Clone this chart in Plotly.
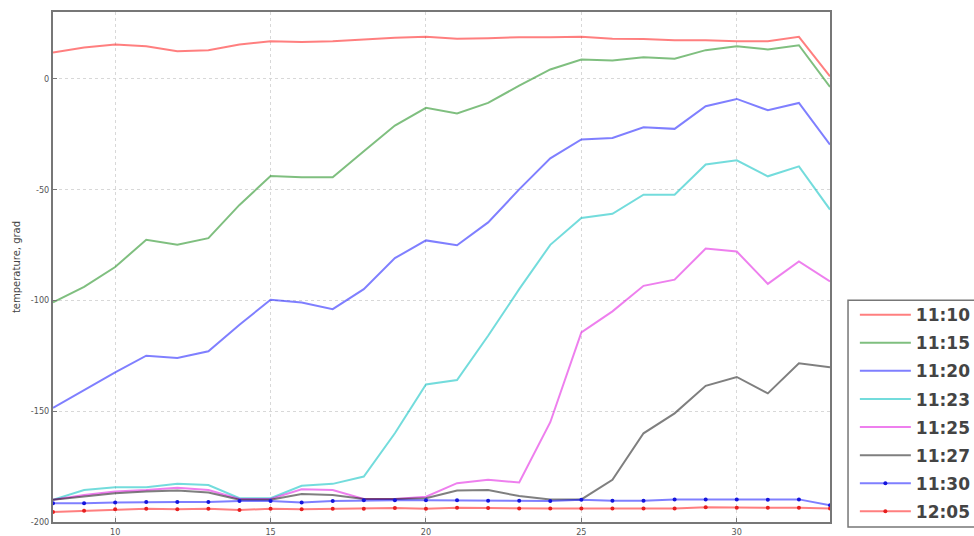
import plotly.graph_objects as go

# probe positions along the pipe
positions = list(range(8, 34))

t_1110 = [11.7, 14.0, 15.3, 14.6, 12.3, 12.8, 15.3, 16.8, 16.5, 16.8, 17.6, 18.4, 18.8,
          17.9, 18.2, 18.6, 18.6, 18.8, 17.9, 17.8, 17.3, 17.3, 16.8, 16.8, 18.8, 1.0]
t_1115 = [-101, -94, -85, -72.7, -75, -72, -57, -44, -44.5, -44.5, -32.8, -21.2, -13.2,
          -15.8, -11, -3.2, 4.1, 8.6, 8.1, 9.6, 8.9, 12.8, 14.6, 13.1, 15.0, -3.8]
t_1120 = [-148.5, -140.5, -132.5, -125, -126, -123, -111, -99.8, -101, -104, -95, -81, -73,
          -75.2, -64.9, -50, -36, -27.5, -26.8, -22, -22.7, -12.5, -9.2, -14.3, -11, -29.8]
t_1123 = [-190, -185.6, -184.3, -184.3, -182.8, -183.3, -189.3, -189.3, -183.7, -182.8, -179.5,
          -160, -138, -136, -116, -95, -75, -62.9, -61, -52.4, -52.4, -38.8, -36.9, -44.1, -39.6, -59.1]
t_1125 = [-190, -187.8, -186.3, -185.6, -184.5, -185.6, -189.6, -189.6, -185.2, -185.6, -189.6,
          -189.6, -188.6, -182.5, -181, -182.2, -155, -114.5, -105, -93.5, -90.7, -76.7, -78,
          -92.6, -82.5, -91.5]
t_1127 = [-190, -188.6, -187, -186.3, -185.8, -186.7, -190, -190, -187.4, -187.8, -189.6, -189.6,
          -189.3, -185.8, -185.6, -188.3, -189.8, -189.8, -181, -160, -151, -138.6, -134.6,
          -142, -128.4, -130.2]
t_1130 = [-191.6, -191.6, -191.2, -191, -191, -191, -190.5, -190.5, -191.2, -190.5, -190.2,
          -190.2, -190.2, -190.2, -190.4, -190.4, -190.5, -190, -190.4, -190.4, -189.8, -189.8,
          -189.8, -190, -189.8, -192.5]
t_1205 = [-195.5, -194.9, -194.3, -194, -194.3, -194, -194.6, -194, -194.3, -194, -194, -193.7,
          -194, -193.6, -193.7, -193.9, -193.9, -193.9, -193.9, -193.9, -193.9, -193.3, -193.6,
          -193.6, -193.6, -193.9]

x_ticks = [10, 15, 20, 25, 30]
y_ticks = [0, -50, -100, -150, -200]

plain_series = [
    ("11:10", t_1110, "rgba(255,0,0,0.5)"),
    ("11:15", t_1115, "rgba(0,128,0,0.5)"),
    ("11:20", t_1120, "rgba(0,0,255,0.5)"),
    ("11:23", t_1123, "rgba(0,191,191,0.55)"),
    ("11:25", t_1125, "rgba(221,0,221,0.5)"),
    ("11:27", t_1127, "rgba(0,0,0,0.5)"),
]
marked_series = [
    ("11:30", t_1130, "rgba(0,0,255,0.5)", "rgb(20,20,220)"),
    ("12:05", t_1205, "rgba(255,0,0,0.5)", "rgb(230,30,30)"),
]

fig = go.Figure()
for name, vals, col in plain_series:
    fig.add_trace(go.Scatter(x=positions, y=vals, mode="lines", name=name, legendgroup=name,
                             line=dict(color=col, width=2)))
for name, vals, col, mcol in marked_series:
    fig.add_trace(go.Scatter(x=positions, y=vals, mode="lines+markers", name=name,
                             legendgroup=name,
                             line=dict(color=col, width=2),
                             marker=dict(color=mcol, size=4)))

# legend frame (runs off the right edge of the canvas)
fig.add_shape(type="rect", xref="paper", yref="paper",
              x0=1.0232, x1=1.25, y0=-0.0098, y1=0.435,
              line=dict(color="#777777", width=1.5), fillcolor="white", layer="below")

axis_font = dict(family="DejaVu Sans Condensed, DejaVu Sans", size=9, color="#555555")
fig.update_layout(
    width=974, height=536,
    margin=dict(l=53, r=144, t=12, b=14, autoexpand=False),
    paper_bgcolor="white", plot_bgcolor="white",
    showlegend=True,
    legend=dict(
        x=1.032, y=0.441, xanchor="left", yanchor="top",
        bgcolor="rgba(0,0,0,0)", borderwidth=0,
        font=dict(family="DejaVu Sans", size=17, color="#444444", weight="bold"),
        tracegroupgap=3, itemwidth=51,
    ),
)
fig.update_xaxes(
    range=[8, 33], tickvals=x_ticks, ticktext=[str(v) for v in x_ticks],
    showgrid=True, gridcolor="#d8d8d8", griddash="dot", gridwidth=1,
    showline=True, linecolor="#777777", linewidth=2, mirror=True,
    ticks="inside", ticklen=4, tickcolor="#777777",
    tickfont=axis_font, zeroline=False, automargin=False,
)
fig.update_yaxes(
    range=[-200, 30], tickvals=y_ticks, ticktext=[str(v) for v in y_ticks],
    showgrid=True, gridcolor="#d8d8d8", griddash="dot", gridwidth=1,
    showline=True, linecolor="#777777", linewidth=2, mirror=True,
    ticks="inside", ticklen=4, tickcolor="#777777",
    tickfont=axis_font, zeroline=False, automargin=False,
    title=dict(text="temperature, grad", standoff=8,
               font=dict(family="DejaVu Sans", size=10, color="#444444")),
)

fig.write_html("out.html")
